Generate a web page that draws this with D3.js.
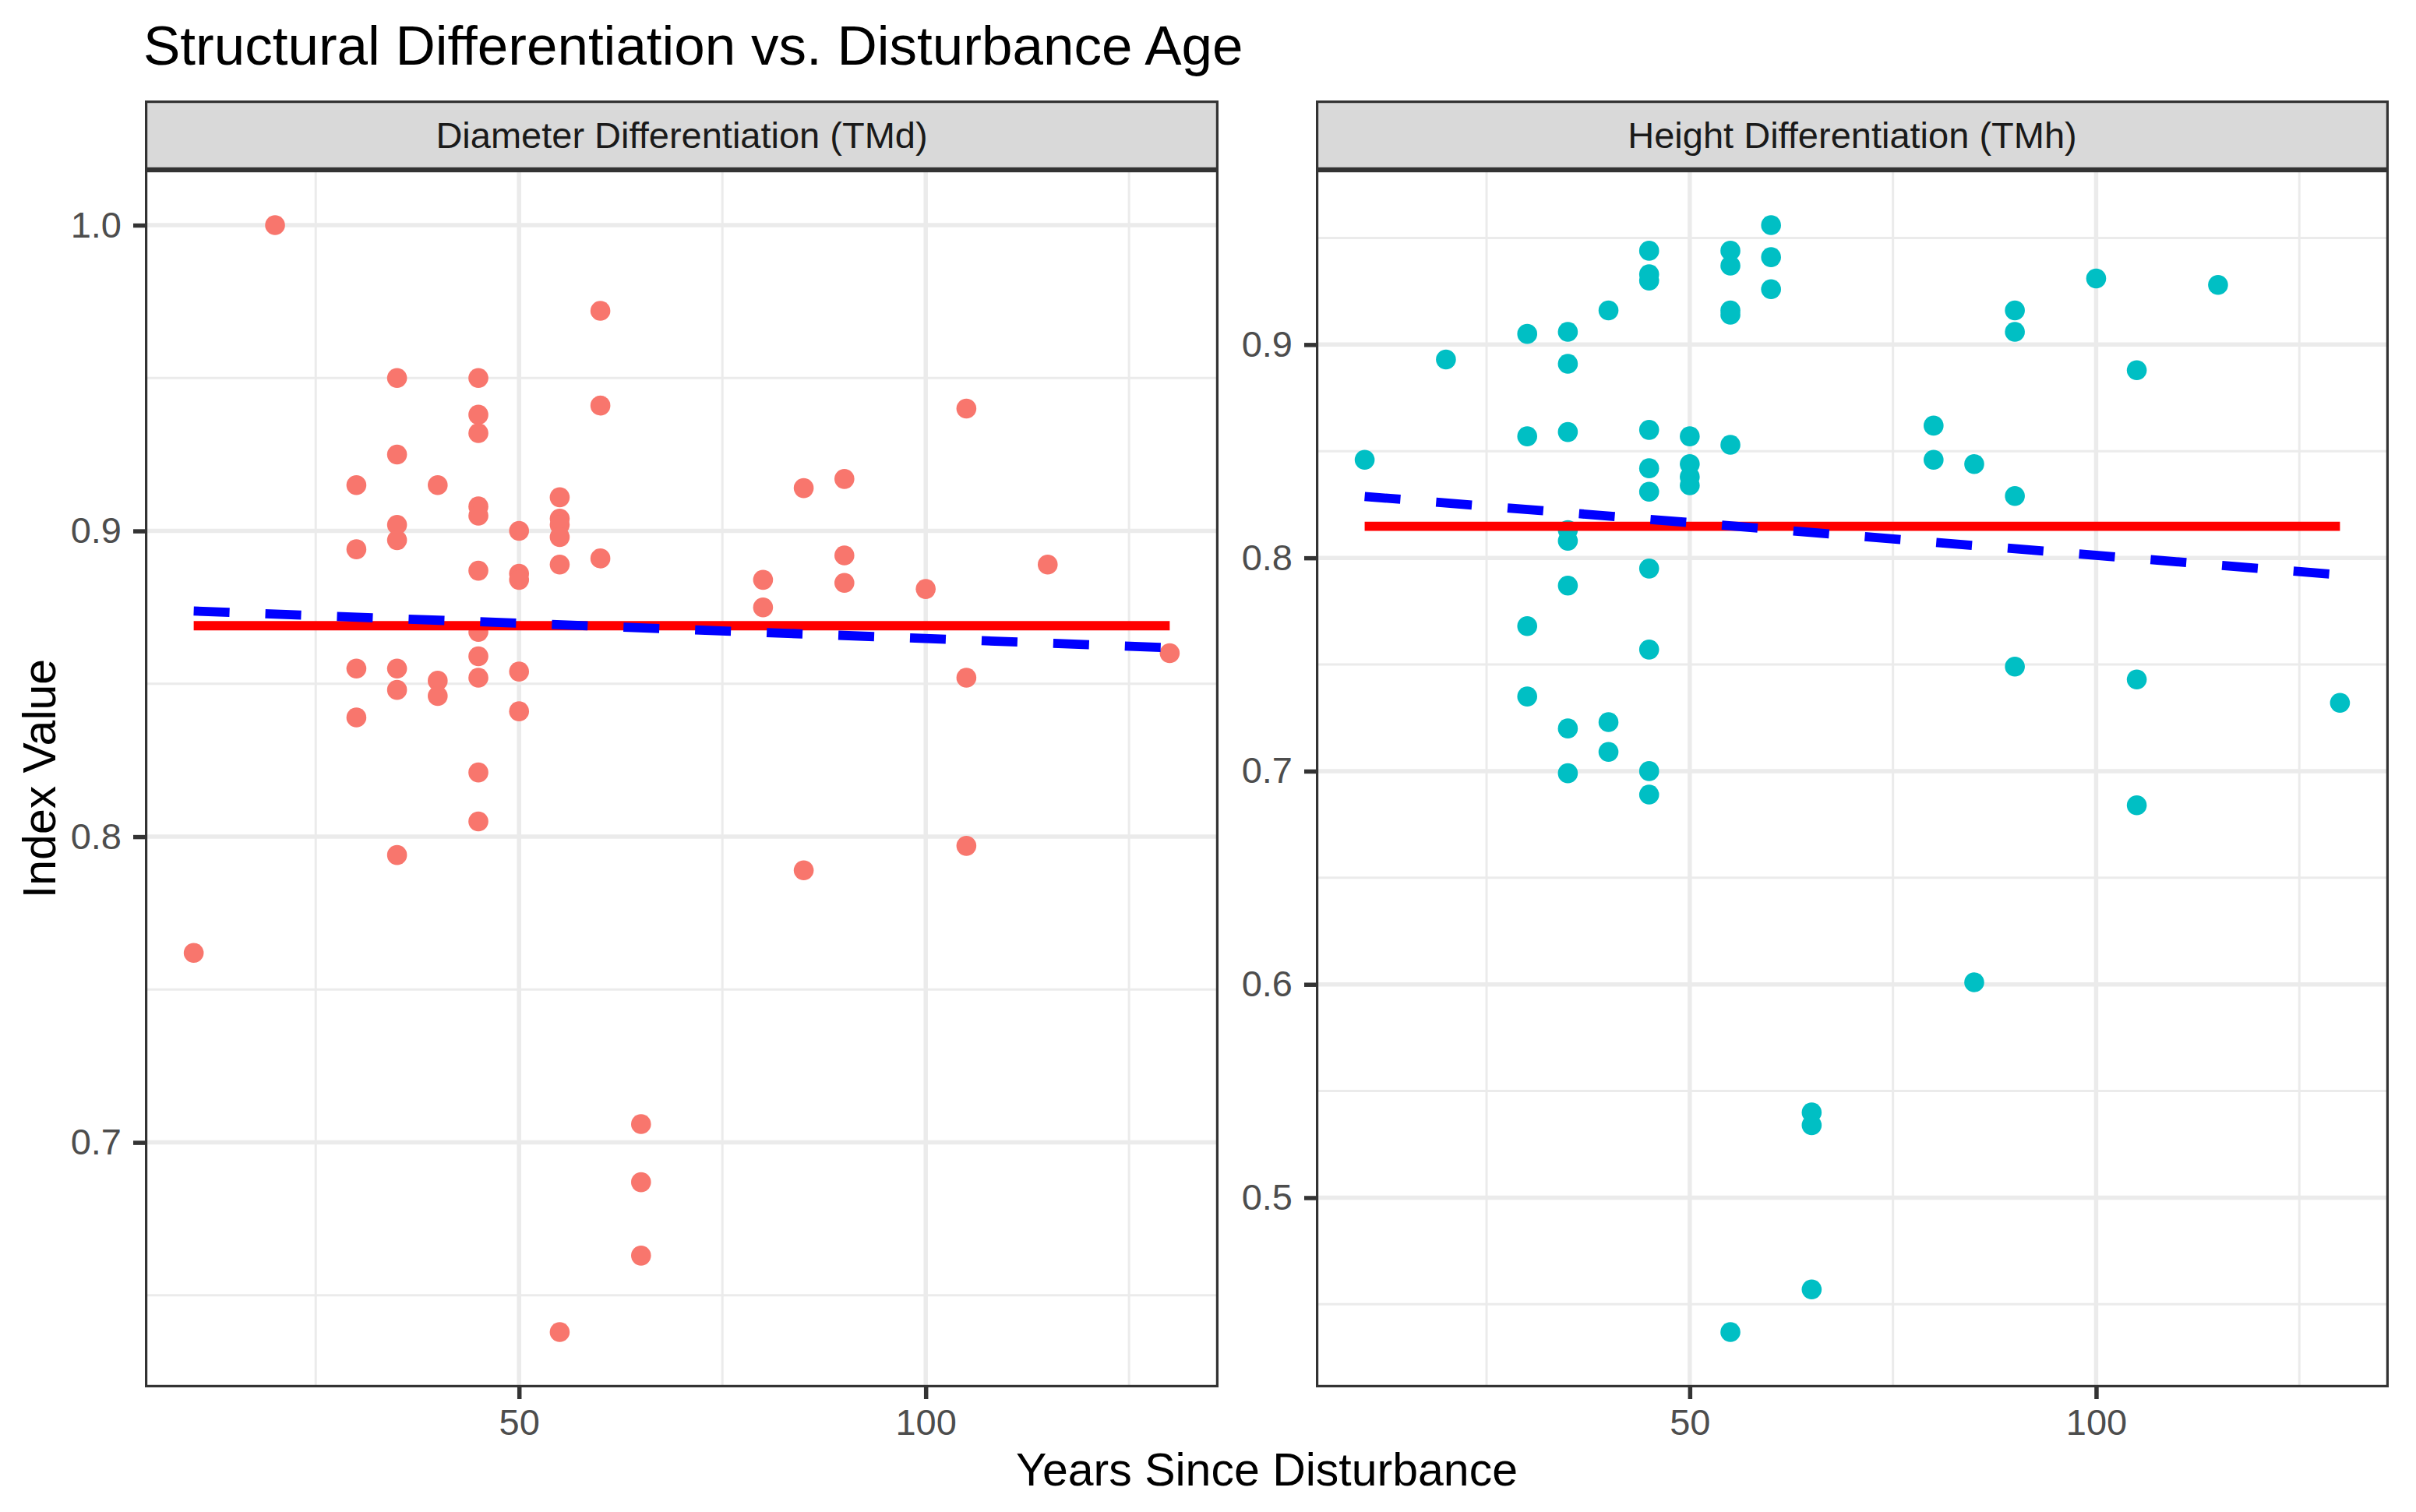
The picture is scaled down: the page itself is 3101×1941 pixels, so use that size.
<!DOCTYPE html>
<html>
<head>
<meta charset="utf-8">
<script src="https://cdn.jsdelivr.net/npm/d3@7"></script>
<style>
    body { margin: 0; background: #ffffff; }
    text { font-family: "Liberation Sans", Arial, Helvetica, sans-serif; }
</style>
</head>
<body>
<div id="box"></div>
<script>
// chart text
var chartTitle = "Structural Differentiation vs. Disturbance Age";
var stripLabels = ["Diameter Differentiation (TMd)", "Height Differentiation (TMh)"];
var xTitle = "Years Since Disturbance";
var yTitle = "Index Value";

// tick labels
var xTicks = [50, 100];
var tmdYTicks = [0.7, 0.8, 0.9, 1.0];
var tmhYTicks = [0.5, 0.6, 0.7, 0.8, 0.9];

// diameter differentiation (TMd) points
var tmdYears = [10, 20, 30, 30, 30, 30, 35, 35, 35, 35, 35, 35, 35, 40, 40, 40,
    45, 45, 45, 45, 45, 45, 45, 45, 45, 45, 45, 50, 50, 50, 50, 50,
    55, 55, 55, 55, 55, 55, 60, 60, 60, 65, 65, 65, 80, 80, 85, 85,
    90, 90, 90, 100, 105, 105, 105, 115, 130];
var tmdValues = [0.762, 1.000, 0.915, 0.894, 0.855, 0.839, 0.950, 0.925, 0.902, 0.897, 0.855, 0.848, 0.794, 0.915, 0.851, 0.846,
    0.950, 0.938, 0.932, 0.908, 0.905, 0.887, 0.867, 0.859, 0.852, 0.821, 0.805, 0.900, 0.886, 0.884, 0.854, 0.841,
    0.911, 0.904, 0.902, 0.898, 0.889, 0.638, 0.972, 0.941, 0.891, 0.706, 0.687, 0.663, 0.884, 0.875, 0.914, 0.789,
    0.917, 0.892, 0.883, 0.881, 0.940, 0.852, 0.797, 0.889, 0.860];

// height differentiation (TMh) points
var tmhYears = [10, 20, 30, 30, 30, 30, 35, 35, 35, 35, 35, 35, 35, 35, 40, 40, 40,
    45, 45, 45, 45, 45, 45, 45, 45, 45, 45, 50, 50, 50, 50,
    55, 55, 55, 55, 55, 55, 60, 60, 60, 65, 65, 65, 80, 80, 85, 85,
    90, 90, 90, 90, 100, 105, 105, 105, 115, 130];
var tmhValues = [0.846, 0.893, 0.905, 0.857, 0.768, 0.735, 0.906, 0.891, 0.859, 0.813, 0.808, 0.787, 0.720, 0.699, 0.916, 0.723, 0.709,
    0.944, 0.933, 0.930, 0.860, 0.842, 0.831, 0.795, 0.757, 0.700, 0.689, 0.857, 0.844, 0.838, 0.834,
    0.944, 0.937, 0.916, 0.914, 0.853, 0.437, 0.956, 0.941, 0.926, 0.540, 0.534, 0.457, 0.862, 0.846, 0.844, 0.601,
    0.916, 0.906, 0.829, 0.749, 0.931, 0.888, 0.743, 0.684, 0.928, 0.732];

// fitted lines (start / end year)
var fitYears = [10, 130];
var tmdMean = [0.869, 0.869];
var tmdTrend = [0.8738, 0.8618];
var tmhMean = [0.8148, 0.8148];
var tmhTrend = [0.8288, 0.7920];

var W = 3101, H = 1941;
var panelTop = 218, panelBottom = 1781, stripTop = 129;

var panels = [
    { label: stripLabels[0], left: 186, right: 1564, years: tmdYears, values: tmdValues,
      color: "#F8766D", yTicks: tmdYTicks, mean: tmdMean, trend: tmdTrend },
    { label: stripLabels[1], left: 1689, right: 3066, years: tmhYears, values: tmhValues,
      color: "#00BFC4", yTicks: tmhYTicks, mean: tmhMean, trend: tmhTrend }
];

// ggplot style 5% padding on continuous scales
function expand(ext) {
    var w = ext[1] - ext[0];
    return [ext[0] - 0.05 * w, ext[1] + 0.05 * w];
}

// minor breaks half way between majors
function minorBreaks(ticks, domain) {
    var step = ticks[1] - ticks[0];
    var all = [ticks[0] - step].concat(ticks, [ticks[ticks.length - 1] + step]);
    var out = [];
    for (var i = 0; i < all.length - 1; i++) {
        var m = (all[i] + all[i + 1]) / 2;
        if (m > domain[0] && m < domain[1]) out.push(m);
    }
    return out;
}

var svg = d3.select("#box")
    .append("svg")
    .attr("width", W)
    .attr("height", H);

svg.append("rect")
    .attr("width", W)
    .attr("height", H)
    .attr("fill", "#ffffff");

var xDomain = expand(d3.extent(tmdYears.concat(tmhYears)));

panels.forEach(function(p, i) {
    var x = d3.scaleLinear().domain(xDomain).range([p.left, p.right]);
    var y = d3.scaleLinear().domain(expand(d3.extent(p.values))).range([panelBottom, panelTop]);
    var pw = p.right - p.left, ph = panelBottom - panelTop;

    svg.append("clipPath")
        .attr("id", "clip" + i)
        .append("rect")
        .attr("x", p.left).attr("y", panelTop)
        .attr("width", pw).attr("height", ph);

    var g = svg.append("g").attr("clip-path", "url(#clip" + i + ")");

    // grid
    g.selectAll(".xminor")
        .data(minorBreaks(xTicks, xDomain))
        .enter().append("line")
        .attr("x1", x).attr("x2", x)
        .attr("y1", panelTop).attr("y2", panelBottom)
        .attr("stroke", "#EBEBEB").attr("stroke-width", 3);
    g.selectAll(".yminor")
        .data(minorBreaks(p.yTicks, y.domain()))
        .enter().append("line")
        .attr("y1", y).attr("y2", y)
        .attr("x1", p.left).attr("x2", p.right)
        .attr("stroke", "#EBEBEB").attr("stroke-width", 3);
    g.selectAll(".xmajor")
        .data(xTicks)
        .enter().append("line")
        .attr("x1", x).attr("x2", x)
        .attr("y1", panelTop).attr("y2", panelBottom)
        .attr("stroke", "#EBEBEB").attr("stroke-width", 5.5);
    g.selectAll(".ymajor")
        .data(p.yTicks)
        .enter().append("line")
        .attr("y1", y).attr("y2", y)
        .attr("x1", p.left).attr("x2", p.right)
        .attr("stroke", "#EBEBEB").attr("stroke-width", 5.5);

    // points
    g.selectAll(".pt")
        .data(p.values)
        .enter().append("circle")
        .attr("cx", function(d, k) { return x(p.years[k]); })
        .attr("cy", function(d) { return y(d); })
        .attr("r", 12.8)
        .attr("fill", p.color);

    // mean line (solid red) and linear trend (dashed blue)
    var line = d3.line()
        .x(function(d, k) { return x(fitYears[k]); })
        .y(function(d) { return y(d); });

    g.append("path")
        .attr("d", line(p.mean))
        .attr("fill", "none")
        .attr("stroke", "#FF0000")
        .attr("stroke-width", 11.8);

    g.append("path")
        .attr("d", line(p.trend))
        .attr("fill", "none")
        .attr("stroke", "#0000FF")
        .attr("stroke-width", 11.8)
        .attr("stroke-dasharray", "46,46");

    // panel border
    svg.append("rect")
        .attr("x", p.left + 1.6).attr("y", panelTop + 1.6)
        .attr("width", pw - 3.2).attr("height", ph - 3.2)
        .attr("fill", "none")
        .attr("stroke", "#333333")
        .attr("stroke-width", 3.2);

    // strip
    svg.append("rect")
        .attr("x", p.left + 1.6).attr("y", stripTop + 1.6)
        .attr("width", pw - 3.2).attr("height", panelTop - stripTop - 3.2)
        .attr("fill", "#D9D9D9")
        .attr("stroke", "#333333")
        .attr("stroke-width", 3.2);
    svg.append("text")
        .attr("x", (p.left + p.right) / 2)
        .attr("y", 190)
        .attr("text-anchor", "middle")
        .attr("font-size", 47)
        .attr("fill", "#1A1A1A")
        .text(p.label);

    // axes
    var ya = svg.append("g")
        .attr("transform", "translate(" + p.left + ",0)")
        .call(d3.axisLeft(y).tickValues(p.yTicks).tickFormat(d3.format(".1f"))
            .tickSize(15).tickPadding(15));
    var xa = svg.append("g")
        .attr("transform", "translate(0," + panelBottom + ")")
        .call(d3.axisBottom(x).tickValues(xTicks).tickFormat(d3.format("d"))
            .tickSize(15).tickPadding(13));

    [ya, xa].forEach(function(a) {
        a.select(".domain").remove();
        a.selectAll(".tick line").attr("stroke", "#333333").attr("stroke-width", 5.5);
        a.selectAll(".tick text")
            .attr("font-size", 47)
            .attr("font-family", "'Liberation Sans', Arial, Helvetica, sans-serif")
            .attr("fill", "#4D4D4D");
    });
});

// titles
svg.append("text")
    .attr("x", 184)
    .attr("y", 83)
    .attr("font-size", 71)
    .attr("fill", "#000000")
    .text(chartTitle);

svg.append("text")
    .attr("x", (panels[0].left + panels[1].right) / 2)
    .attr("y", 1907)
    .attr("text-anchor", "middle")
    .attr("font-size", 59)
    .attr("fill", "#000000")
    .text(xTitle);

svg.append("text")
    .attr("transform", "translate(71," + (panelTop + panelBottom) / 2 + ") rotate(-90)")
    .attr("text-anchor", "middle")
    .attr("font-size", 59)
    .attr("fill", "#000000")
    .text(yTitle);
</script>
</body>
</html>
